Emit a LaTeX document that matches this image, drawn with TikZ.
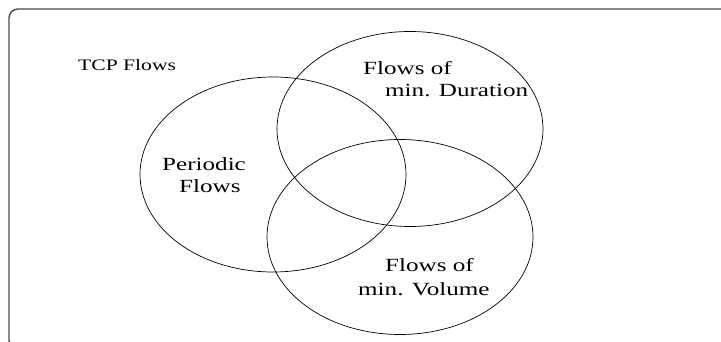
\documentclass[tikz,border=0pt]{standalone}
\usepackage{fontspec}
\setmainfont[FakeStretch=1.35]{Liberation Serif}
\usetikzlibrary{shapes.geometric}
\tikzset{
  frame/.style={draw=black!70, line width=1.4pt, rounded corners=9pt},
  setbox/.style={draw=black, line width=0.7pt, ellipse, inner sep=0pt, minimum width=266pt, minimum height=195pt},
  biglabel/.style={inner sep=0pt, anchor=base west, font=\fontsize{18.6}{22}\selectfont},
  smalllabel/.style={inner sep=0pt, anchor=base west, font=\fontsize{16}{19}\selectfont}
}
\begin{document}
\begin{tikzpicture}[x=1pt,y=-1pt]
\useasboundingbox (0,0) rectangle (721,342);
\begin{scope}
\clip (0,0) rectangle (721,342);
\draw[frame] (9,9) rectangle (745,349);
\end{scope}
\node[setbox] (per) at (273,174.5) {};
\node[setbox] (dur) at (410,129) {};
\node[setbox] (vol) at (400,237) {};
\node[smalllabel] (tcp) at (78,70.7) {TCP Flows};
\node[biglabel] (per1) at (162,171) {Periodic};
\node[biglabel] (per2) at (179,193) {Flows};
\node[biglabel] (dur1) at (363,75) {Flows of};
\node[biglabel] (dur2) at (385,97) {min. Duration};
\node[biglabel] (vol1) at (385,272) {Flows of};
\node[biglabel] (vol2) at (358,295) {min. Volume};
\end{tikzpicture}
\end{document}
